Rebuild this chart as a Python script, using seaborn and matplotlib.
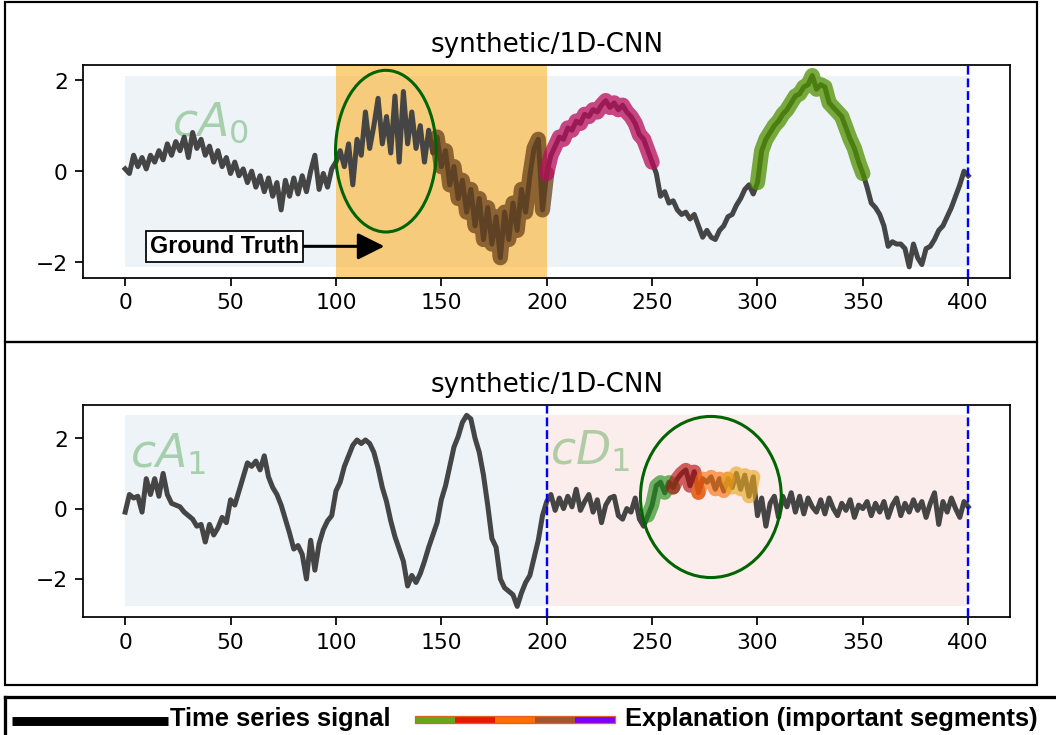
import matplotlib
matplotlib.use("Agg")
import matplotlib.pyplot as plt
import seaborn as sns
import pandas as pd
from matplotlib.patches import Ellipse, Rectangle
from matplotlib.lines import Line2D

# ---------------------------------------------------------------- data
t = list(range(0, 401, 2))

# approximation coefficients cA0 (top panel)
sig_a0 = [
    0.05, -0.05, 0.35, 0.10, 0.30, 0.05, 0.35, 0.20, 0.45, 0.25,
    0.60, 0.35, 0.65, 0.45, 0.75, 0.30, 0.85, 0.50, 0.70, 0.35,
    0.55, 0.20, 0.45, 0.10, 0.30, -0.05, 0.20, -0.10, 0.05, -0.25,
    0.00, -0.35, -0.10, -0.45, -0.15, -0.55, -0.25, -0.85, -0.20, -0.55,
    -0.15, -0.50, -0.10, -0.45, 0.00, 0.35, -0.40, -0.05, -0.35, 0.05,
    0.20, 0.45, 0.10, 0.60, -0.30, 0.70, 0.35, 1.30, 0.50, 1.00,
    1.60, 0.60, 1.20, 0.40, 1.65, 0.20, 1.75, 0.60, 1.30, 0.50,
    1.00, 0.20, 0.90, 0.40, 0.75, 0.10, 0.45, -0.30, 0.10, -0.60,
    -0.20, -0.90, -0.40, -1.20, -0.60, -1.50, -0.80, -1.60, -1.00, -1.90,
    -0.90, -1.50, -0.70, -1.30, -0.40, -0.90, -0.10, 0.50, 0.70, -0.85,
    -0.05, 0.35, 0.55, 0.75, 0.70, 0.95, 0.90, 1.10, 1.05, 1.25,
    1.20, 1.35, 1.30, 1.45, 1.55, 1.40, 1.50, 1.35, 1.45, 1.30,
    1.20, 1.05, 0.80, 0.70, 0.45, 0.20, -0.05, -0.55, -0.45, -0.70,
    -0.65, -0.85, -0.95, -0.90, -1.05, -0.95, -1.20, -1.45, -1.30, -1.45,
    -1.50, -1.30, -1.20, -1.00, -0.95, -0.75, -0.60, -0.40, -0.30, -0.50,
    -0.25, 0.45, 0.70, 0.85, 1.00, 1.10, 1.25, 1.35, 1.50, 1.65,
    1.70, 1.85, 1.90, 2.10, 1.80, 1.90, 1.85, 1.50, 1.40, 1.30,
    1.20, 0.95, 0.70, 0.50, 0.20, -0.05, -0.35, -0.70, -0.80, -0.95,
    -1.20, -1.65, -1.55, -1.60, -1.60, -1.70, -2.10, -1.60, -1.90, -2.05,
    -1.70, -1.65, -1.50, -1.30, -1.20, -1.00, -0.80, -0.55, -0.30, 0.00,
    -0.10,
]

# approximation cA1 (t < 200) followed by detail cD1 (t >= 200)
sig_a1 = [
    -0.10, 0.40, 0.30, 0.35, -0.10, 0.85, 0.40, 0.85, 0.35, 1.00,
    0.40, 0.15, 0.10, 0.05, -0.10, -0.20, -0.30, -0.50, -0.45, -0.95,
    -0.45, -0.75, -0.55, -0.25, -0.40, 0.25, 0.10, 0.50, 0.90, 1.30,
    1.20, 1.35, 1.10, 1.50, 0.90, 0.60, 0.40, 0.10, -0.30, -0.70,
    -1.15, -1.05, -1.30, -2.00, -0.90, -1.75, -1.00, -0.60, -0.35, -0.20,
    0.50, 0.75, 1.20, 1.50, 1.80, 1.95, 1.85, 1.95, 1.85, 1.60,
    1.15, 0.60, 0.20, -0.35, -0.80, -1.15, -1.50, -2.20, -1.90, -2.10,
    -1.85, -1.50, -1.10, -0.75, -0.40, 0.25, 0.65, 1.20, 1.75, 2.05,
    2.45, 2.65, 2.55, 2.00, 1.60, 0.95, 0.10, -0.85, -1.10, -2.00,
    -2.25, -2.35, -2.45, -2.78, -2.40, -2.10, -1.90, -1.40, -0.90, -0.20,
    0.20, 0.40, -0.05, 0.30, 0.00, 0.35, 0.05, 0.55, -0.05, 0.20,
    0.40, -0.10, 0.25, -0.40, 0.10, 0.30, 0.35, -0.20, -0.30, 0.00,
    -0.10, 0.30, -0.30, -0.50, -0.20, 0.10, 0.65, 0.75, 0.45, 0.75,
    0.60, 0.85, 1.00, 1.10, 0.65, 1.05, 0.45, 0.85, 0.75, 0.90,
    0.55, 0.85, 0.50, 0.85, 0.60, 1.00, 0.55, 0.95, 0.35, 0.90,
    -0.20, 0.30, -0.50, 0.15, 0.35, -0.25, 0.35, 0.05, 0.45, -0.10,
    0.35, -0.15, 0.30, 0.05, -0.10, 0.25, -0.15, 0.30, 0.00, -0.20,
    0.15, -0.05, 0.25, -0.25, 0.10, 0.00, 0.20, -0.20, 0.15, -0.10,
    0.20, -0.25, 0.10, 0.30, -0.20, 0.15, -0.10, 0.25, -0.05, 0.20,
    -0.25, 0.15, 0.45, -0.45, 0.20, -0.10, 0.30, 0.00, -0.25, 0.20,
    0.05,
]

# important segments (start, end) found by the explainer
segments_a0 = [(148, 200), (200, 250), (300, 350)]
segments_a1 = [(248, 260), (260, 272), (272, 286), (286, 298)]

ground_truth = (100, 200)
xticks = [0, 50, 100, 150, 200, 250, 300, 350, 400]
yticks = [-2, 0, 2]
panel_title = "synthetic/1D-CNN"
legend_labels = ["Time series signal", "Explanation (important segments)"]

# ---------------------------------------------------------------- styling
W, H, DPI = 1056, 735, 157
sig_color = "#454545"
seg_colors_a0 = ["#694119", "#B90C5B", "#4F9100"]
seg_colors_a1 = ["#208E19", "#B61010", "#F9710D", "#E8A820"]
legend_colors = ["#5FAA19", "#E61905", "#FF6E00", "#A05532", "#7800FF"]
band_blue = "#EEF3F8"
band_pink = "#FCEDED"

df_a0 = pd.DataFrame({"t": t, "value": sig_a0})
df_a1 = pd.DataFrame({"t": t, "value": sig_a1})

fig = plt.figure(figsize=((W + 0.4) / DPI, (H + 0.4) / DPI), dpi=DPI)


def fx(px):
    return px / W


def fy(py):
    return 1 - py / H


ax1 = fig.add_axes([fx(83), fy(278), fx(1010) - fx(83), fy(65) - fy(278)])
ax2 = fig.add_axes([fx(83), fy(617), fx(1010) - fx(83), fy(405) - fy(617)])


def draw_signal(ax, df):
    sns.lineplot(data=df, x="t", y="value", ax=ax, color=sig_color,
                 lw=2.3, legend=False, zorder=3, estimator=None)


def draw_segments(ax, df, segs, colors, lw, alpha):
    for (a, b), c in zip(segs, colors):
        part = df[(df["t"] >= a) & (df["t"] <= b)]
        sns.lineplot(data=part, x="t", y="value", ax=ax, color=c, lw=lw,
                     alpha=alpha, legend=False, zorder=4, estimator=None,
                     solid_capstyle="round", solid_joinstyle="round")


# ---- top panel: cA0
lo, hi = min(sig_a0), max(sig_a0)
ax1.fill_between([0, 400], lo, hi, color=band_blue, lw=0, zorder=0)
ax1.axvspan(*ground_truth, color="orange", alpha=0.5, lw=0, zorder=1)
draw_signal(ax1, df_a0)
draw_segments(ax1, df_a0, segments_a0, seg_colors_a0, 7.0, 0.75)
ax1.axvline(400, color="blue", ls="--", lw=1.1, zorder=5)
ax1.text(22.0, 0.79, r"$cA_0$", fontsize=21, color="green", alpha=0.3,
         va="baseline", zorder=2)
ax1.add_patch(Ellipse((123.7, 0.44), 47.8, 3.55, fill=False,
                      ec="darkgreen", lw=1.4, zorder=6))
ax1.annotate("Ground Truth", xy=(123, -1.65), xytext=(47.2, -1.65),
             ha="center", va="center", fontsize=10.7, fontweight="bold",
             family=["Liberation Sans", "DejaVu Sans"],
             bbox=dict(boxstyle="square,pad=0.17", fc="white", ec="black",
                       lw=0.8),
             arrowprops=dict(arrowstyle="-|>", color="black", lw=1.4,
                             mutation_scale=26, shrinkA=0, shrinkB=0),
             zorder=7)

# ---- bottom panel: cA1 | cD1
lo, hi = min(sig_a1), max(sig_a1)
ax2.fill_between([0, 200], lo, hi, color=band_blue, lw=0, zorder=0)
ax2.fill_between([200, 400], lo, hi, color=band_pink, lw=0, zorder=0)
draw_signal(ax2, df_a1)
draw_segments(ax2, df_a1, segments_a1, seg_colors_a1, 6.5, 0.65)
for xv in (200, 400):
    ax2.axvline(xv, color="blue", ls="--", lw=1.1, zorder=5)
ax2.text(2.5, 1.17, r"$cA_1$", fontsize=21, color="green", alpha=0.3,
         va="baseline", zorder=2)
ax2.text(201.5, 1.26, r"$cD_1$", fontsize=21, color="green", alpha=0.3,
         va="baseline", zorder=2)
ax2.add_patch(Ellipse((277.9, 0.33), 66.8, 4.58, fill=False,
                      ec="darkgreen", lw=1.4, zorder=6))

for ax in (ax1, ax2):
    ax.set_title(panel_title, fontsize=12)
    ax.set_xticks(xticks)
    ax.set_yticks(yticks)
    ax.set_xlabel("")
    ax.set_ylabel("")
    ax.set_xlim(-20, 420)
ax1.set_ylim(-2.34, 2.34)
ax2.set_ylim(-3.08, 2.95)

# ---- panel frames
for top, bottom in ((2, 342), (342, 685)):
    fig.add_artist(Rectangle((fx(5), fy(bottom)), fx(1037) - fx(5),
                             fy(top) - fy(bottom), transform=fig.transFigure,
                             fill=False, ec="black", lw=1.0))

# ---- legend strip
fig.add_artist(Line2D([fx(5), 1.0], [fy(697), fy(697)],
                      transform=fig.transFigure, color="black", lw=1.5))
fig.add_artist(Line2D([fx(5), fx(5)], [fy(697), 0.0],
                      transform=fig.transFigure, color="black", lw=1.5))
fig.add_artist(Line2D([fx(12), fx(168)], [fy(721.5), fy(721.5)],
                      transform=fig.transFigure, color="black", lw=4.1,
                      solid_capstyle="butt"))
for i, c in enumerate(legend_colors):
    fig.add_artist(Rectangle((fx(415 + 40 * i), fy(723.3)), fx(40),
                             fy(715.7) - fy(723.3), transform=fig.transFigure,
                             fc=c, ec="none"))
fig.add_artist(Rectangle((fx(415), fy(723.3)), fx(200), fy(715.7) - fy(723.3),
                         transform=fig.transFigure, fill=False, ec="#E0602A",
                         lw=0.6))
fig.text(fx(170), fy(726), legend_labels[0], fontsize=11.7, fontweight="bold",
         family=["Liberation Sans", "DejaVu Sans"], va="baseline")
fig.text(fx(625), fy(726), legend_labels[1], fontsize=11.7, fontweight="bold",
         family=["Liberation Sans", "DejaVu Sans"], va="baseline")

fig.savefig("out.png", dpi=DPI)
